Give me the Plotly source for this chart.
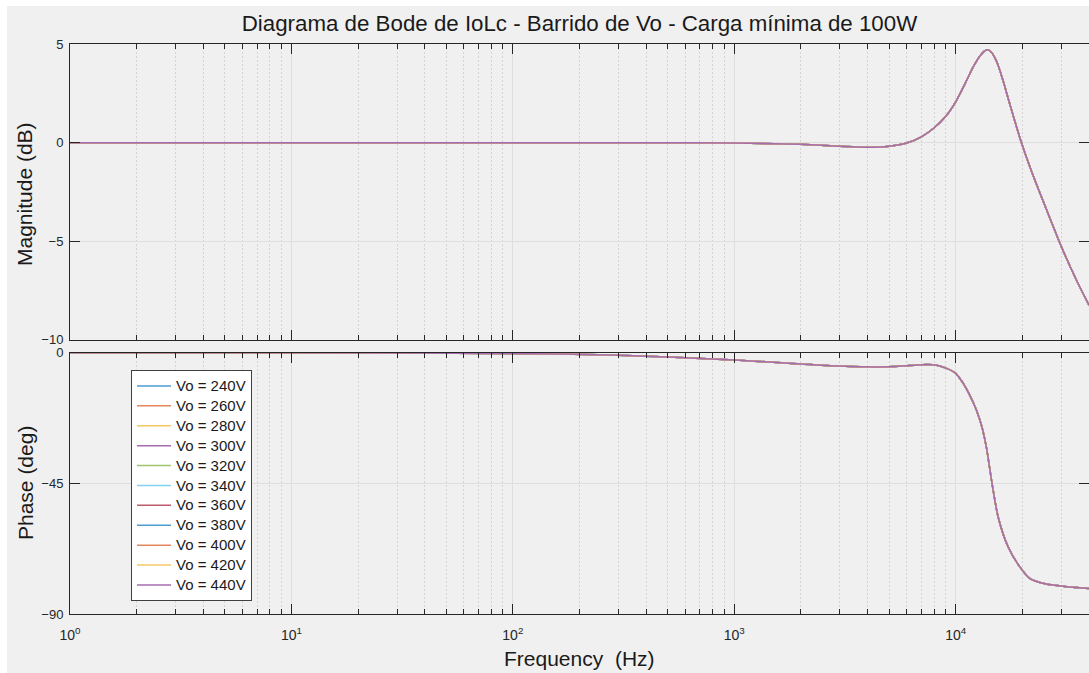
import plotly.graph_objects as go

# Swept output voltages (one curve per value)
vo_labels = ["Vo = 240V", "Vo = 260V", "Vo = 280V", "Vo = 300V", "Vo = 320V", "Vo = 340V",
             "Vo = 360V", "Vo = 380V", "Vo = 400V", "Vo = 420V", "Vo = 440V"]
# Default colour order, softened as thin anti-aliased lines appear on white
line_colors = ["#4D9CD1", "#E4875E", "#F2C863", "#A56DB0", "#A0C56E", "#82D2F3",
               "#BE5A6D", "#4D9CD1", "#E4875E", "#F2C863", "#A56DB0"]

# Magnitude response of IoLc (identical for every Vo at minimum load)
mag_freq_hz = [1, 10, 100, 500, 1000, 2000, 3000, 4000, 5000, 6000, 7000, 8000, 9000,
               10000, 11000, 12000, 13000, 13800, 14500, 15300, 16300, 17200, 18500,
               19750, 22000, 24000, 27000, 30000, 35000, 40000]
mag_db = [0.0, 0.0, 0.0, 0.0, -0.02, -0.08, -0.18, -0.23, -0.18, -0.02, 0.30, 0.76, 1.33,
          2.08, 2.98, 3.85, 4.47, 4.72, 4.60, 4.13, 3.22, 2.31, 1.09,
          0.05, -1.45, -2.55, -4.00, -5.28, -6.95, -8.25]

# Phase response of IoLc
phase_freq_hz = [1, 10, 100, 300, 1000, 2000, 3000, 4500, 6000, 7400, 8200, 9100,
                 10000, 10800, 11570, 12400, 13060, 13750, 14590, 15540, 17230, 19450,
                 21590, 25670, 30520, 40000]
phase_deg = [0.0, -0.03, -0.3, -0.9, -2.5, -3.9, -4.6, -4.9, -4.5, -4.1, -4.3, -5.4,
             -7.1, -10.5, -14.6, -19.7, -24.9, -32.4, -45.0, -56.5, -66.8, -73.7,
             -77.7, -79.7, -80.4, -81.2]

x_major = [1, 10, 100, 1000, 10000]
x_major_text = ["10<sup>0</sup>", "10<sup>1</sup>", "10<sup>2</sup>", "10<sup>3</sup>", "10<sup>4</sup>"]
x_minor = [m * d for d in [1, 10, 100, 1000, 10000] for m in range(2, 10) if m * d <= 40000]
mag_ticks = [-10, -5, 0, 5]
phase_ticks = [-90, -45, 0]

AX = "#262626"
FONT = "Liberation Sans, Arial, Helvetica, sans-serif"
W, H = 1089, 673
L = 70
plot_w = W - L

def px_x(p):
    return (p - L) / plot_w

def px_y(p):
    return 1 - p / H

fig = go.Figure()

for lbl, col in zip(vo_labels, line_colors):
    fig.add_trace(go.Scatter(
        x=mag_freq_hz, y=mag_db, mode="lines", xaxis="x", yaxis="y",
        line=dict(color=col, width=1.5, shape="spline", smoothing=0.8),
        name='<span style="font-size:15px">' + lbl + "</span>",
        legendgroup=lbl, showlegend=True))
for lbl, col in zip(vo_labels, line_colors):
    fig.add_trace(go.Scatter(
        x=phase_freq_hz, y=phase_deg, mode="lines", xaxis="x2", yaxis="y2",
        line=dict(color=col, width=1.5, shape="spline", smoothing=0.8),
        name=lbl, legendgroup=lbl, showlegend=False))

xaxis_common = dict(
    type="log", range=[0, 4.60206],
    tickvals=x_major, ticktext=x_major_text,
    ticks="inside", ticklen=10, tickcolor=AX, tickwidth=1,
    showline=True, linecolor=AX, linewidth=1, mirror="ticks",
    showgrid=True, gridcolor="#DEDEDE", gridwidth=1,
    minor=dict(tickvals=x_minor, ticks="inside", ticklen=5, tickcolor=AX,
               showgrid=True, gridcolor="#D3D3D3", griddash="2px,2px", gridwidth=1),
    zeroline=False,
    tickfont=dict(family=FONT, size=14, color=AX),
)
yaxis_common = dict(
    ticks="inside", ticklen=10, tickcolor=AX, tickwidth=1,
    showline=True, linecolor=AX, linewidth=1, mirror="ticks",
    showgrid=True, gridcolor="#DEDEDE", gridwidth=1, zeroline=False,
    ticklabelstandoff=3,
    tickfont=dict(family=FONT, size=13, color=AX),
)

fig.update_layout(
    width=W, height=H,
    margin=dict(l=L, r=0, t=0, b=0, autoexpand=False),
    paper_bgcolor="white", plot_bgcolor="white",
    showlegend=True,
    xaxis=dict(xaxis_common, domain=[0, 1], anchor="y", showticklabels=False),
    yaxis=dict(yaxis_common, domain=[px_y(339.5), px_y(44.3)], anchor="x",
               range=[-10, 5], tickvals=mag_ticks),
    xaxis2=dict(xaxis_common, domain=[0, 1], anchor="y2", matches="x",
                ticklabelstandoff=8),
    yaxis2=dict(yaxis_common, domain=[px_y(614), px_y(352.7)], anchor="x2",
                range=[-90, 0], tickvals=phase_ticks),
    legend=dict(x=px_x(131), y=px_y(370), xanchor="left", yanchor="top",
                bgcolor="white", bordercolor="#404040", borderwidth=1,
                font=dict(family=FONT, size=13, color="#1a1a1a"),
                itemwidth=34, tracegroupgap=0),
    title=dict(text="Diagrama de Bode de IoLc - Barrido de Vo - Carga mínima de 100W",
               x=0.5, xref="paper", xanchor="center",
               y=px_y(23), yref="container", yanchor="middle",
               font=dict(family=FONT, size=22.3, color="#1a1a1a")),
    shapes=[dict(type="rect", xref="paper", yref="paper", layer="below",
                 x0=px_x(7), x1=1.02, y0=-0.01, y1=px_y(6),
                 fillcolor="#F0F0F0", line=dict(width=0))],
    annotations=[
        dict(text="Magnitude (dB)", xref="paper", yref="paper", x=px_x(25), y=px_y(194),
             xanchor="center", yanchor="middle", textangle=-90, showarrow=False,
             font=dict(family=FONT, size=21, color="#1a1a1a")),
        dict(text="Phase (deg)", xref="paper", yref="paper", x=px_x(25), y=px_y(483),
             xanchor="center", yanchor="middle", textangle=-90, showarrow=False,
             font=dict(family=FONT, size=21, color="#1a1a1a")),
        dict(text="Frequency \u00a0(Hz)", xref="paper", yref="paper", x=0.5, y=px_y(658),
             xanchor="center", yanchor="middle", showarrow=False,
             font=dict(family=FONT, size=21, color="#1a1a1a")),
    ],
)

fig.write_html("out.html")
